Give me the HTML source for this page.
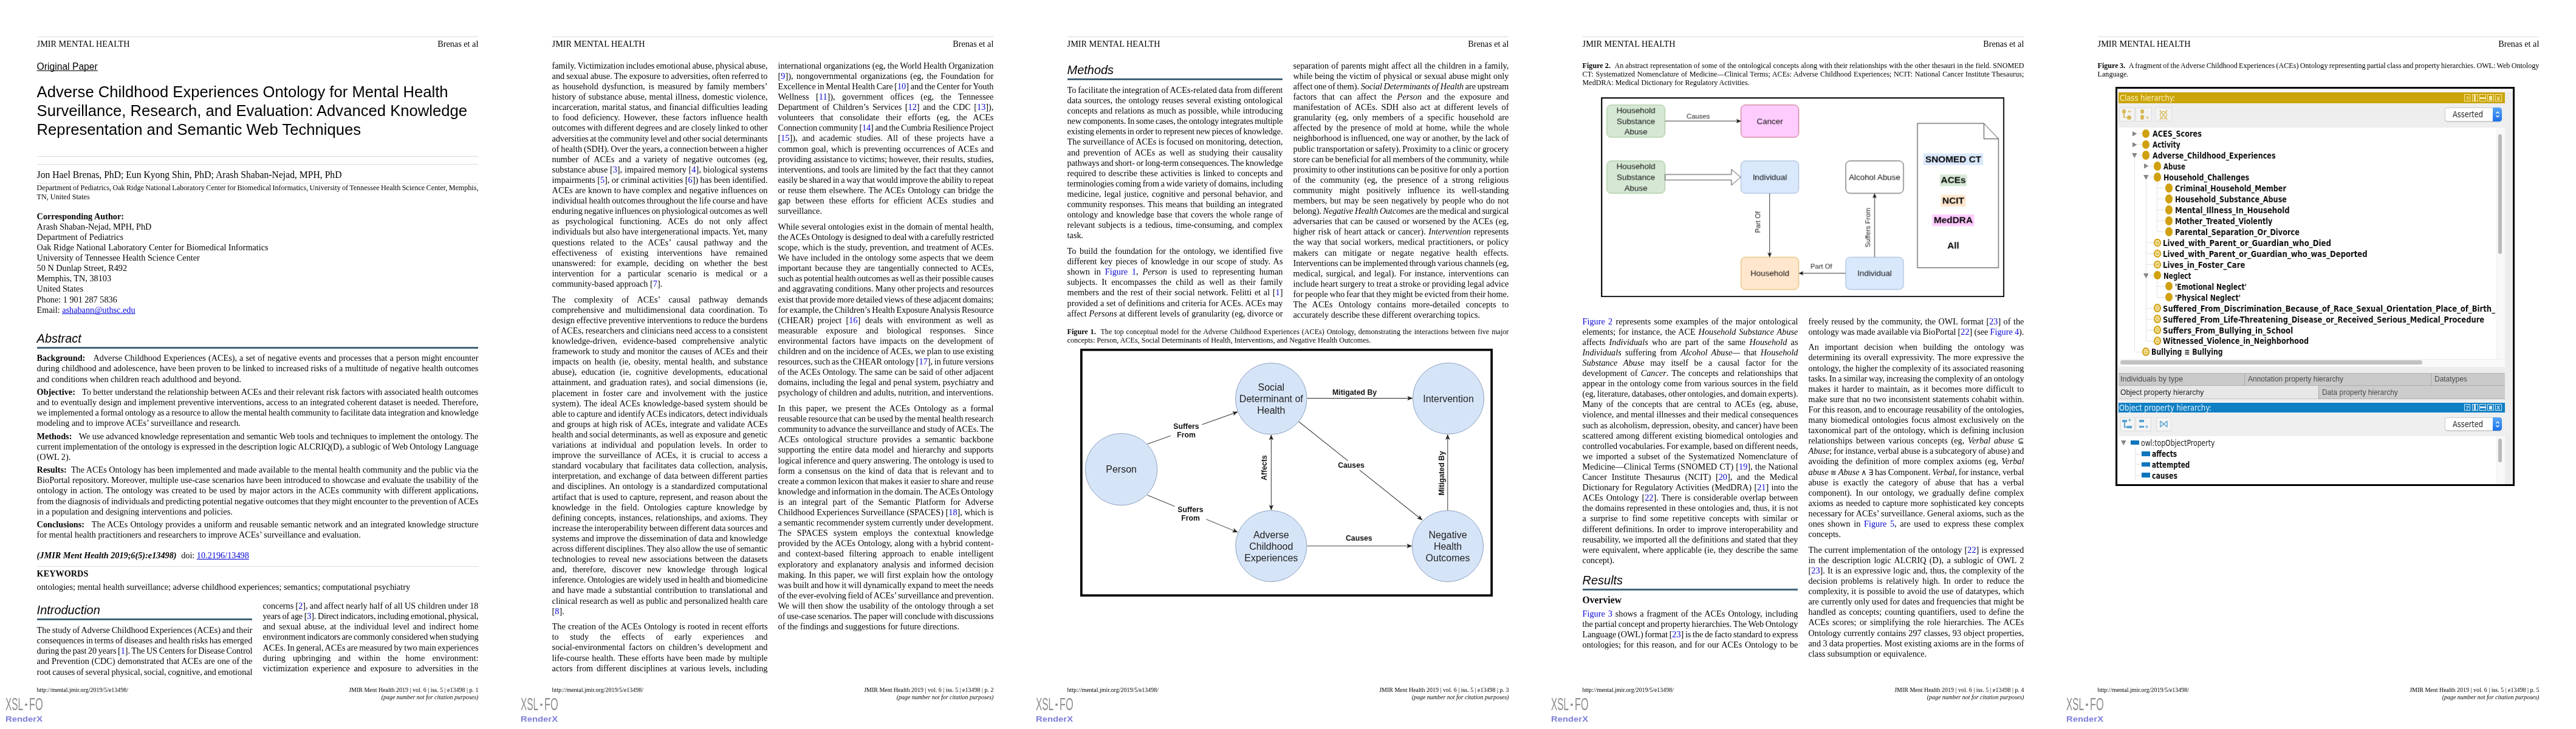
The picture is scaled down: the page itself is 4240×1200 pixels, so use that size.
<!DOCTYPE html>
<html lang="en"><head><meta charset="utf-8"><title>JMIR Mental Health - Brenas et al</title>
<style>
html,body{margin:0;padding:0;background:#fff}
body{width:4240px;height:1200px;position:relative;overflow:hidden;font-family:'Liberation Serif',serif;color:#000}
.t{position:absolute;white-space:nowrap;line-height:20px;height:20px;font-size:14.25px}
.s{font-family:'Liberation Serif',serif}
.h{font-family:'Liberation Sans',sans-serif}
.d{font-family:'DejaVu Sans',sans-serif}
.dc{font-family:'DejaVu Sans Condensed','DejaVu Sans',sans-serif}
.db{font-family:'DejaVu Sans Condensed','DejaVu Sans',sans-serif;font-weight:bold}
#pg{position:absolute;left:0;top:0;width:4240px;height:1200px;will-change:transform}
.r{position:absolute}
.g{display:inline-block}
.m{font-family:'DejaVu Sans',sans-serif;font-size:12.5px}
a{color:#0000d6;text-decoration:none}
a.u{text-decoration:underline;text-decoration-skip-ink:none;text-decoration-thickness:0.8px;text-underline-offset:1.2px}
u{text-decoration-thickness:1.1px;text-underline-offset:1px;text-decoration-skip-ink:none}
</style></head>
<body>
<div id="pg">
<div class="r" style="left:60.60px;top:60.20px;width:726.80px;height:0.80px;background:#dcdcdc"></div>
<div class="r" style="left:40.80px;top:1158.30px;width:3.80px;height:3.80px;background:#8e8e8e;border-radius:50%"></div>
<div class="t h" style="left:9.3px;top:1174.2px;font-size:12.7px;font-weight:bold;color:#7d7fd8;transform-origin:0 0;transform:scaleX(1.17)">RenderX</div>
<div class="r" style="left:60.60px;top:257.20px;width:726.80px;height:0.80px;background:#dcdcdc"></div>
<div class="r" style="left:60.60px;top:270.30px;width:726.80px;height:0.80px;background:#dcdcdc"></div>
<div class="r" style="left:60.60px;top:301.80px;width:726.80px;height:0.80px;background:#dcdcdc"></div>
<div class="r" style="left:60.60px;top:571.00px;width:726.80px;height:3.00px;background:#42647a"></div>
<div class="r" style="left:60.60px;top:932.00px;width:726.80px;height:0.80px;background:#dcdcdc"></div>
<div class="r" style="left:60.60px;top:1018.40px;width:354.85px;height:3.00px;background:#42647a"></div>
<div class="r" style="left:908.60px;top:60.20px;width:726.80px;height:0.80px;background:#dcdcdc"></div>
<div class="r" style="left:888.80px;top:1158.30px;width:3.80px;height:3.80px;background:#8e8e8e;border-radius:50%"></div>
<div class="t h" style="left:857.3px;top:1174.2px;font-size:12.7px;font-weight:bold;color:#7d7fd8;transform-origin:0 0;transform:scaleX(1.17)">RenderX</div>
<div class="r" style="left:1756.60px;top:60.20px;width:726.80px;height:0.80px;background:#dcdcdc"></div>
<div class="r" style="left:1736.80px;top:1158.30px;width:3.80px;height:3.80px;background:#8e8e8e;border-radius:50%"></div>
<div class="t h" style="left:1705.3px;top:1174.2px;font-size:12.7px;font-weight:bold;color:#7d7fd8;transform-origin:0 0;transform:scaleX(1.17)">RenderX</div>
<div class="r" style="left:1756.60px;top:128.60px;width:354.85px;height:3.00px;background:#42647a"></div>
<svg class="r" style="left:1778.0px;top:574px" width="679.0" height="408" viewBox="82.0 574 679.0 408"><defs><marker id="ah" markerWidth="10" markerHeight="8" refX="8.5" refY="4" orient="auto-start-reverse" markerUnits="userSpaceOnUse"><path d="M0,0.3 L9,4 L0,7.7 L2.2,4 Z" fill="#222"/></marker></defs><rect x="83.85" y="575.85" width="675.30" height="404.30" fill="#fff" stroke="#000" stroke-width="3.7"/><line x1="192.5" y1="731.0" x2="341.0" y2="678.0" stroke="#444" stroke-width="1.1" marker-end="url(#ah)"/><line x1="192.5" y1="815.0" x2="341.0" y2="876.0" stroke="#444" stroke-width="1.1" marker-end="url(#ah)"/><line x1="455.5" y1="655.6" x2="628.8" y2="655.6" stroke="#444" stroke-width="1.1" marker-end="url(#ah)"/><line x1="396.4" y1="839.5" x2="396.4" y2="716.0" stroke="#444" stroke-width="1.1" marker-end="url(#ah)" marker-start="url(#ah)"/><line x1="441.0" y1="693.5" x2="645.0" y2="856.0" stroke="#444" stroke-width="1.1" marker-end="url(#ah)"/><line x1="455.5" y1="898.8" x2="627.8" y2="898.8" stroke="#444" stroke-width="1.1" marker-end="url(#ah)"/><line x1="686.8" y1="840.5" x2="686.8" y2="715.5" stroke="#444" stroke-width="1.1" marker-end="url(#ah)"/><circle cx="149.6" cy="772.6" r="59.2" fill="#d6e4f7" stroke="#8fa3c2" stroke-width="1"/><circle cx="396.3" cy="656.4" r="58.8" fill="#d6e4f7" stroke="#8fa3c2" stroke-width="1"/><circle cx="688.0" cy="656.0" r="58.6" fill="#d6e4f7" stroke="#8fa3c2" stroke-width="1"/><circle cx="396.3" cy="899.0" r="58.6" fill="#d6e4f7" stroke="#8fa3c2" stroke-width="1"/><circle cx="687.0" cy="899.0" r="58.6" fill="#d6e4f7" stroke="#8fa3c2" stroke-width="1"/><g transform="translate(256.5,708.5) rotate(0)"><rect x="-25.8" y="-14.2" width="51.7" height="28.4" fill="#fff"/><text x="0" y="-2.2" text-anchor="middle" font-family="Liberation Sans,sans-serif" font-weight="bold" font-size="12.3" fill="#111">Suffers</text><text x="0" y="11.0" text-anchor="middle" font-family="Liberation Sans,sans-serif" font-weight="bold" font-size="12.3" fill="#111">From</text></g><g transform="translate(263.5,845.6) rotate(0)"><rect x="-25.8" y="-14.2" width="51.7" height="28.4" fill="#fff"/><text x="0" y="-2.2" text-anchor="middle" font-family="Liberation Sans,sans-serif" font-weight="bold" font-size="12.3" fill="#111">Suffers</text><text x="0" y="11.0" text-anchor="middle" font-family="Liberation Sans,sans-serif" font-weight="bold" font-size="12.3" fill="#111">From</text></g><g transform="translate(533.6,645.2) rotate(0)"><text x="0" y="4.4" text-anchor="middle" font-family="Liberation Sans,sans-serif" font-weight="bold" font-size="12.3" fill="#111">Mitigated By</text></g><g transform="translate(385.0,770.0) rotate(-90)"><text x="0" y="4.4" text-anchor="middle" font-family="Liberation Sans,sans-serif" font-weight="bold" font-size="12.3" fill="#111">Affects</text></g><g transform="translate(528.0,766.0) rotate(0)"><rect x="-22.1" y="-7.6" width="44.3" height="15.2" fill="#fff"/><text x="0" y="4.4" text-anchor="middle" font-family="Liberation Sans,sans-serif" font-weight="bold" font-size="12.3" fill="#111">Causes</text></g><g transform="translate(540.8,886.0) rotate(0)"><text x="0" y="4.4" text-anchor="middle" font-family="Liberation Sans,sans-serif" font-weight="bold" font-size="12.3" fill="#111">Causes</text></g><g transform="translate(677.0,779.0) rotate(-90)"><text x="0" y="4.4" text-anchor="middle" font-family="Liberation Sans,sans-serif" font-weight="bold" font-size="12.3" fill="#111">Mitigated By</text></g><text x="149.6" y="778.3" text-anchor="middle" font-family="Liberation Sans,sans-serif" font-size="16" fill="#222">Person</text><text x="396.3" y="643.1" text-anchor="middle" font-family="Liberation Sans,sans-serif" font-size="16" fill="#222">Social</text><text x="396.3" y="662.1" text-anchor="middle" font-family="Liberation Sans,sans-serif" font-size="16" fill="#222">Determinant of</text><text x="396.3" y="681.1" text-anchor="middle" font-family="Liberation Sans,sans-serif" font-size="16" fill="#222">Health</text><text x="688.0" y="661.7" text-anchor="middle" font-family="Liberation Sans,sans-serif" font-size="16" fill="#222">Intervention</text><text x="396.3" y="885.7" text-anchor="middle" font-family="Liberation Sans,sans-serif" font-size="16" fill="#222">Adverse</text><text x="396.3" y="904.7" text-anchor="middle" font-family="Liberation Sans,sans-serif" font-size="16" fill="#222">Childhood</text><text x="396.3" y="923.7" text-anchor="middle" font-family="Liberation Sans,sans-serif" font-size="16" fill="#222">Experiences</text><text x="687.0" y="885.7" text-anchor="middle" font-family="Liberation Sans,sans-serif" font-size="16" fill="#222">Negative</text><text x="687.0" y="904.7" text-anchor="middle" font-family="Liberation Sans,sans-serif" font-size="16" fill="#222">Health</text><text x="687.0" y="923.7" text-anchor="middle" font-family="Liberation Sans,sans-serif" font-size="16" fill="#222">Outcomes</text></svg>
<div class="r" style="left:2604.60px;top:60.20px;width:726.80px;height:0.80px;background:#dcdcdc"></div>
<div class="r" style="left:2584.80px;top:1158.30px;width:3.80px;height:3.80px;background:#8e8e8e;border-radius:50%"></div>
<div class="t h" style="left:2553.3px;top:1174.2px;font-size:12.7px;font-weight:bold;color:#7d7fd8;transform-origin:0 0;transform:scaleX(1.17)">RenderX</div>
<svg class="r" style="left:2634.8px;top:159.7px" width="664.4" height="329.5" viewBox="90.8 159.7 664.4 329.5"><defs><marker id="ah2" markerWidth="9" markerHeight="8" refX="7.5" refY="4" orient="auto" markerUnits="userSpaceOnUse"><path d="M0,0.6 L8,4 L0,7.4 L2,4 Z" fill="#111"/></marker></defs><rect x="91.95" y="160.85" width="662.10" height="327.20" fill="#fff" stroke="#000" stroke-width="2.3"/><rect x="100.6" y="172.5" width="95.6" height="53.2" rx="7" fill="#d5e8d4" stroke="#9fc08f" stroke-width="1"/><text x="148.4" y="186.3" text-anchor="middle" font-family="Liberation Sans,sans-serif" font-size="13.4" fill="#111">Household</text><text x="148.4" y="203.9" text-anchor="middle" font-family="Liberation Sans,sans-serif" font-size="13.4" fill="#111">Substance</text><text x="148.4" y="221.5" text-anchor="middle" font-family="Liberation Sans,sans-serif" font-size="13.4" fill="#111">Abuse</text><rect x="321.3" y="172.5" width="95.1" height="53.2" rx="7" fill="#ffccff" stroke="#c0617a" stroke-width="1"/><text x="368.9" y="203.9" text-anchor="middle" font-family="Liberation Sans,sans-serif" font-size="13.4" fill="#111">Cancer</text><rect x="100.6" y="264.6" width="95.6" height="53.3" rx="7" fill="#d5e8d4" stroke="#9fc08f" stroke-width="1"/><text x="148.4" y="278.4" text-anchor="middle" font-family="Liberation Sans,sans-serif" font-size="13.4" fill="#111">Household</text><text x="148.4" y="296.0" text-anchor="middle" font-family="Liberation Sans,sans-serif" font-size="13.4" fill="#111">Substance</text><text x="148.4" y="313.6" text-anchor="middle" font-family="Liberation Sans,sans-serif" font-size="13.4" fill="#111">Abuse</text><rect x="321.3" y="264.6" width="95.1" height="53.3" rx="7" fill="#dae8fc" stroke="#9db4d6" stroke-width="1"/><text x="368.9" y="296.0" text-anchor="middle" font-family="Liberation Sans,sans-serif" font-size="13.4" fill="#111">Individual</text><rect x="493.8" y="264.6" width="95.0" height="53.3" rx="7" fill="#ffffff" stroke="#444" stroke-width="1"/><text x="541.3" y="296.0" text-anchor="middle" font-family="Liberation Sans,sans-serif" font-size="13.4" fill="#111">Alcohol Abuse</text><rect x="321.3" y="423.1" width="95.1" height="53.2" rx="7" fill="#ffe6cc" stroke="#dcb45a" stroke-width="1"/><text x="368.9" y="454.5" text-anchor="middle" font-family="Liberation Sans,sans-serif" font-size="13.4" fill="#111">Household</text><rect x="493.8" y="423.1" width="95.0" height="53.2" rx="7" fill="#dae8fc" stroke="#9db4d6" stroke-width="1"/><text x="541.3" y="454.5" text-anchor="middle" font-family="Liberation Sans,sans-serif" font-size="13.4" fill="#111">Individual</text><line x1="196.5" y1="199.0" x2="321.0" y2="199.0" stroke="#333" stroke-width="1" marker-end="url(#ah2)"/><line x1="368.5" y1="318.2" x2="368.5" y2="422.8" stroke="#333" stroke-width="1" marker-end="url(#ah2)"/><line x1="541.3" y1="422.8" x2="541.3" y2="318.4" stroke="#333" stroke-width="1" marker-end="url(#ah2)"/><line x1="493.5" y1="449.5" x2="416.8" y2="449.5" stroke="#333" stroke-width="1" marker-end="url(#ah2)"/><path d="M196.5,286.9 L305.7,286.9 L305.7,278.3 L320.8,291.4 L305.7,304.6 L305.7,296.0 L196.5,296.0 Z" fill="#fff" stroke="#444" stroke-width="1"/><text transform="translate(251.0,195.2) rotate(0)" text-anchor="middle" font-family="Liberation Sans,sans-serif" font-size="11.3" fill="#222">Causes</text><text transform="translate(353.2,365.5) rotate(-90)" text-anchor="middle" font-family="Liberation Sans,sans-serif" font-size="11.3" fill="#222">Part Of</text><text transform="translate(534.2,374.4) rotate(-90)" text-anchor="middle" font-family="Liberation Sans,sans-serif" font-size="11.3" fill="#222">Suffers From</text><text transform="translate(453.5,442.1) rotate(0)" text-anchor="middle" font-family="Liberation Sans,sans-serif" font-size="11.3" fill="#222">Part Of</text><path d="M611.8,202.8 L721.2,202.8 L745.2,228.2 L745.2,440.4 L611.8,440.4 Z" fill="#fff" stroke="#333" stroke-width="1"/><path d="M721.2,202.8 L721.2,228.2 L745.2,228.2" fill="none" stroke="#333" stroke-width="1"/><rect x="621.8" y="252.4" width="98.0" height="19" fill="#dae8fc"/><text x="670.8" y="266.6" text-anchor="middle" font-family="Liberation Sans,sans-serif" font-weight="bold" font-size="15.4" fill="#000">SNOMED CT</text><rect x="648.8" y="287.0" width="44.0" height="19" fill="#d5e8d4"/><text x="670.8" y="301.2" text-anchor="middle" font-family="Liberation Sans,sans-serif" font-weight="bold" font-size="15.4" fill="#000">ACEs</text><rect x="650.3" y="320.6" width="41.0" height="19" fill="#ffe6cc"/><text x="670.8" y="334.8" text-anchor="middle" font-family="Liberation Sans,sans-serif" font-weight="bold" font-size="15.4" fill="#000">NCIT</text><rect x="636.3" y="352.8" width="69.0" height="19" fill="#ffccff"/><text x="670.8" y="367.0" text-anchor="middle" font-family="Liberation Sans,sans-serif" font-weight="bold" font-size="15.4" fill="#000">MedDRA</text><text x="670.8" y="409.2" text-anchor="middle" font-family="Liberation Sans,sans-serif" font-weight="bold" font-size="15.4" fill="#000">All</text></svg>
<div class="r" style="left:2604.60px;top:968.70px;width:354.85px;height:3.00px;background:#42647a"></div>
<div class="r" style="left:3452.60px;top:60.20px;width:726.80px;height:0.80px;background:#dcdcdc"></div>
<div class="r" style="left:3432.80px;top:1158.30px;width:3.80px;height:3.80px;background:#8e8e8e;border-radius:50%"></div>
<div class="t h" style="left:3401.3px;top:1174.2px;font-size:12.7px;font-weight:bold;color:#7d7fd8;transform-origin:0 0;transform:scaleX(1.17)">RenderX</div>
<div class="r" style="left:3481.6px;top:142.7px;width:657.4px;height:656.9px;background:#ededed;border:3px solid #000;box-sizing:border-box"></div><div class="r" style="left:3484.6px;top:145.7px;width:651.4px;height:6.4px;background:#f7f3f5"></div><div class="r" style="left:3486.9px;top:152.1px;width:636.3px;height:17.5px;background:#caa40a"></div><div class="r" style="left:4055.7px;top:155.4px;width:9.9px;height:11.8px;border:1.2px solid #f7e9a6;box-sizing:border-box"></div><div class="r" style="left:4068.6px;top:155.4px;width:10.0px;height:11.8px;border:1.2px solid #f7e9a6;box-sizing:border-box"></div><div class="r" style="left:4072.2px;top:155.4px;width:2.8px;height:11.8px;background:#f7e9a6"></div><div class="r" style="left:4081.3px;top:155.4px;width:10.6px;height:11.8px;border:1.2px solid #f7e9a6;box-sizing:border-box"></div><div class="r" style="left:4081.3px;top:159.9px;width:10.6px;height:2.8px;background:#f7e9a6"></div><div class="r" style="left:4094.4px;top:155.4px;width:10.3px;height:11.8px;border:1.2px solid #f7e9a6;box-sizing:border-box"></div><div class="r" style="left:4096.9px;top:157.9px;width:5.3px;height:6.8px;background:#f7e9a6"></div><div class="r" style="left:4107.1px;top:155.4px;width:10.6px;height:11.8px;border:1.2px solid #f7e9a6;box-sizing:border-box"></div><div class="r" style="left:3484.6px;top:169.6px;width:651.4px;height:40.4px;background:#eeeeee"></div><div class="r" style="left:3487.5px;top:176.8px;width:26.1px;height:23.6px;background:#f3f3f3;border:1px solid #dcdcdc;box-sizing:border-box"></div><div class="r" style="left:3515.0px;top:176.8px;width:26.5px;height:23.6px;background:#f3f3f3;border:1px solid #dcdcdc;box-sizing:border-box"></div><div class="r" style="left:3547.2px;top:176.8px;width:27.5px;height:23.6px;background:#f3f3f3;border:1px solid #dcdcdc;box-sizing:border-box"></div><div class="r" style="left:3492.6px;top:179.8px;width:6.6px;height:7.3px;border-radius:50%;background:#d6b856"></div><div class="r" style="left:3501.4px;top:190.0px;width:6.6px;height:7.3px;border-radius:50%;background:#d6b856"></div><div class="r" style="left:3495.4px;top:186.0px;width:1.2px;height:8.0px;background:#d6b856"></div><div class="r" style="left:3495.4px;top:193.0px;width:6.6px;height:1.2px;background:#d6b856"></div><div class="r" style="left:3502.2px;top:182.8px;width:5.4px;height:1.2px;background:#d6b856"></div><div class="r" style="left:3504.3px;top:180.7px;width:1.2px;height:5.4px;background:#d6b856"></div><div class="r" style="left:3522.7px;top:179.8px;width:6.6px;height:7.3px;border-radius:50%;background:#d6b856"></div><div class="r" style="left:3522.7px;top:189.4px;width:6.6px;height:7.3px;border-radius:50%;background:#d6b856"></div><div class="r" style="left:3531.5px;top:193.0px;width:5.4px;height:1.2px;background:#d6b856"></div><div class="r" style="left:3533.6px;top:190.9px;width:1.2px;height:5.4px;background:#d6b856"></div><svg class="r" style="left:3552.9px;top:179.5px" width="16" height="19" viewBox="-8 -9.5 16 19"><ellipse cx="0" cy="0" rx="5.3" ry="6.2" fill="none" stroke="#d6b856" stroke-width="1.3"/><path d="M-6.2,-8 L6.2,8 M6.2,-8 L-6.2,8" stroke="#d6b856" stroke-width="1.3"/></svg><div class="r" style="left:4024.4px;top:177.3px;width:94.0px;height:22.8px;background:#fff;border:1px solid #cfcfcf;border-radius:4.5px;box-sizing:border-box;box-shadow:0 0.5px 1px rgba(0,0,0,.15)"></div><div class="r" style="left:4103.3px;top:177.3px;width:15.1px;height:22.8px;background:linear-gradient(#57a6f8,#1b6fe8);border-radius:0 4.5px 4.5px 0"></div><svg class="r" style="left:4106.8px;top:182.2px" width="8" height="13" viewBox="0 0 8 13"><path d="M1.4,5 L4,2.2 L6.6,5 M1.4,8 L4,10.8 L6.6,8" stroke="#fff" stroke-width="1.3" fill="none"/></svg><div class="r" style="left:3486.9px;top:210.0px;width:636.3px;height:394.0px;background:#fff"></div><div class="r" style="left:4108.8px;top:210.0px;width:14.4px;height:380.5px;background:#f8f8f8;border-left:1px solid #efefef;box-sizing:border-box"></div><div class="r" style="left:4111.5px;top:220.9px;width:6.4px;height:197.6px;background:#b9b9b9;border-radius:3.2px"></div><div class="r" style="left:3486.9px;top:590.5px;width:636.3px;height:13.5px;background:#fafafa;border-top:1px solid #ededed;box-sizing:border-box"></div><div class="r" style="left:3489.8px;top:592.6px;width:497.6px;height:7.1px;background:#c2c2c2;border-radius:3.6px"></div><div class="r" style="left:3513.0px;top:261.6px;width:1.0px;height:317.5px;background:#e2e2e2"></div><div class="r" style="left:3531.6px;top:297.6px;width:1.0px;height:263.5px;background:#e2e2e2"></div><div class="r" style="left:3550.2px;top:299.6px;width:1.0px;height:81.8px;background:#e2e2e2"></div><div class="r" style="left:3550.2px;top:461.3px;width:1.0px;height:27.9px;background:#e2e2e2"></div><div class="r" style="left:3518.2px;top:219.2px;width:8.0px;height:1.0px;background:#e2e2e2"></div><div class="r" style="left:3526.1px;top:212.5px;width:12.2px;height:14.4px;border-radius:50%;background:#d0a010"></div><svg class="r" style="left:3510.0px;top:215.5px" width="8" height="8.4" viewBox="0 0 8 8.4"><path d="M0,0 L7.4,4.2 L0,8.4 Z" fill="#868686"/></svg><div class="r" style="left:3518.2px;top:237.2px;width:8.0px;height:1.0px;background:#e2e2e2"></div><div class="r" style="left:3526.1px;top:230.5px;width:12.2px;height:14.4px;border-radius:50%;background:#d0a010"></div><svg class="r" style="left:3510.0px;top:233.5px" width="8" height="8.4" viewBox="0 0 8 8.4"><path d="M0,0 L7.4,4.2 L0,8.4 Z" fill="#868686"/></svg><div class="r" style="left:3518.2px;top:255.1px;width:8.0px;height:1.0px;background:#e2e2e2"></div><div class="r" style="left:3526.1px;top:248.4px;width:12.2px;height:14.4px;border-radius:50%;background:#d0a010"></div><svg class="r" style="left:3509.0px;top:252.0px" width="8.6" height="8.2" viewBox="0 0 8.6 8.2"><path d="M0,0 L8.6,0 L4.3,8.2 Z" fill="#868686"/></svg><div class="r" style="left:3536.9px;top:273.1px;width:8.0px;height:1.0px;background:#e2e2e2"></div><div class="r" style="left:3544.8px;top:266.4px;width:12.2px;height:14.4px;border-radius:50%;background:#d0a010"></div><svg class="r" style="left:3528.7px;top:269.4px" width="8" height="8.4" viewBox="0 0 8 8.4"><path d="M0,0 L7.4,4.2 L0,8.4 Z" fill="#868686"/></svg><div class="r" style="left:3536.9px;top:291.1px;width:8.0px;height:1.0px;background:#e2e2e2"></div><div class="r" style="left:3544.8px;top:284.4px;width:12.2px;height:14.4px;border-radius:50%;background:#d0a010"></div><svg class="r" style="left:3527.7px;top:288.0px" width="8.6" height="8.2" viewBox="0 0 8.6 8.2"><path d="M0,0 L8.6,0 L4.3,8.2 Z" fill="#868686"/></svg><div class="r" style="left:3551.1px;top:309.0px;width:12.5px;height:1.0px;background:#e2e2e2"></div><div class="r" style="left:3563.5px;top:302.3px;width:12.2px;height:14.4px;border-radius:50%;background:#d0a010"></div><div class="r" style="left:3551.1px;top:327.0px;width:12.5px;height:1.0px;background:#e2e2e2"></div><div class="r" style="left:3563.5px;top:320.3px;width:12.2px;height:14.4px;border-radius:50%;background:#d0a010"></div><div class="r" style="left:3551.1px;top:345.0px;width:12.5px;height:1.0px;background:#e2e2e2"></div><div class="r" style="left:3563.5px;top:338.3px;width:12.2px;height:14.4px;border-radius:50%;background:#d0a010"></div><div class="r" style="left:3551.1px;top:363.0px;width:12.5px;height:1.0px;background:#e2e2e2"></div><div class="r" style="left:3563.5px;top:356.3px;width:12.2px;height:14.4px;border-radius:50%;background:#d0a010"></div><div class="r" style="left:3551.1px;top:380.9px;width:12.5px;height:1.0px;background:#e2e2e2"></div><div class="r" style="left:3563.5px;top:374.2px;width:12.2px;height:14.4px;border-radius:50%;background:#d0a010"></div><div class="r" style="left:3532.4px;top:398.9px;width:12.5px;height:1.0px;background:#e2e2e2"></div><div class="r" style="left:3545.0px;top:392.6px;width:11.8px;height:13.6px;border-radius:50%;background:#f3e2a0;border:2.2px solid #d0a010;box-sizing:border-box"></div><div class="r" style="left:3548.7px;top:397.6px;width:4.4px;height:1.0px;background:#d0a010"></div><div class="r" style="left:3548.7px;top:400.0px;width:4.4px;height:1.0px;background:#d0a010"></div><div class="r" style="left:3532.4px;top:416.9px;width:12.5px;height:1.0px;background:#e2e2e2"></div><div class="r" style="left:3545.0px;top:410.6px;width:11.8px;height:13.6px;border-radius:50%;background:#f3e2a0;border:2.2px solid #d0a010;box-sizing:border-box"></div><div class="r" style="left:3548.7px;top:415.6px;width:4.4px;height:1.0px;background:#d0a010"></div><div class="r" style="left:3548.7px;top:418.0px;width:4.4px;height:1.0px;background:#d0a010"></div><div class="r" style="left:3532.4px;top:434.8px;width:12.5px;height:1.0px;background:#e2e2e2"></div><div class="r" style="left:3545.0px;top:428.5px;width:11.8px;height:13.6px;border-radius:50%;background:#f3e2a0;border:2.2px solid #d0a010;box-sizing:border-box"></div><div class="r" style="left:3548.7px;top:433.5px;width:4.4px;height:1.0px;background:#d0a010"></div><div class="r" style="left:3548.7px;top:435.9px;width:4.4px;height:1.0px;background:#d0a010"></div><div class="r" style="left:3536.9px;top:452.8px;width:8.0px;height:1.0px;background:#e2e2e2"></div><div class="r" style="left:3544.8px;top:446.1px;width:12.2px;height:14.4px;border-radius:50%;background:#d0a010"></div><svg class="r" style="left:3527.7px;top:449.7px" width="8.6" height="8.2" viewBox="0 0 8.6 8.2"><path d="M0,0 L8.6,0 L4.3,8.2 Z" fill="#868686"/></svg><div class="r" style="left:3551.1px;top:470.8px;width:12.5px;height:1.0px;background:#e2e2e2"></div><div class="r" style="left:3563.5px;top:464.1px;width:12.2px;height:14.4px;border-radius:50%;background:#d0a010"></div><div class="r" style="left:3551.1px;top:488.7px;width:12.5px;height:1.0px;background:#e2e2e2"></div><div class="r" style="left:3563.5px;top:482.0px;width:12.2px;height:14.4px;border-radius:50%;background:#d0a010"></div><div class="r" style="left:3532.4px;top:506.7px;width:12.5px;height:1.0px;background:#e2e2e2"></div><div class="r" style="left:3545.0px;top:500.4px;width:11.8px;height:13.6px;border-radius:50%;background:#f3e2a0;border:2.2px solid #d0a010;box-sizing:border-box"></div><div class="r" style="left:3548.7px;top:505.4px;width:4.4px;height:1.0px;background:#d0a010"></div><div class="r" style="left:3548.7px;top:507.8px;width:4.4px;height:1.0px;background:#d0a010"></div><div class="r" style="left:3532.4px;top:524.7px;width:12.5px;height:1.0px;background:#e2e2e2"></div><div class="r" style="left:3545.0px;top:518.4px;width:11.8px;height:13.6px;border-radius:50%;background:#f3e2a0;border:2.2px solid #d0a010;box-sizing:border-box"></div><div class="r" style="left:3548.7px;top:523.4px;width:4.4px;height:1.0px;background:#d0a010"></div><div class="r" style="left:3548.7px;top:525.8px;width:4.4px;height:1.0px;background:#d0a010"></div><div class="r" style="left:3532.4px;top:542.7px;width:12.5px;height:1.0px;background:#e2e2e2"></div><div class="r" style="left:3545.0px;top:536.4px;width:11.8px;height:13.6px;border-radius:50%;background:#f3e2a0;border:2.2px solid #d0a010;box-sizing:border-box"></div><div class="r" style="left:3548.7px;top:541.4px;width:4.4px;height:1.0px;background:#d0a010"></div><div class="r" style="left:3548.7px;top:543.8px;width:4.4px;height:1.0px;background:#d0a010"></div><div class="r" style="left:3532.4px;top:560.6px;width:12.5px;height:1.0px;background:#e2e2e2"></div><div class="r" style="left:3545.0px;top:554.3px;width:11.8px;height:13.6px;border-radius:50%;background:#f3e2a0;border:2.2px solid #d0a010;box-sizing:border-box"></div><div class="r" style="left:3548.7px;top:559.3px;width:4.4px;height:1.0px;background:#d0a010"></div><div class="r" style="left:3548.7px;top:561.7px;width:4.4px;height:1.0px;background:#d0a010"></div><div class="r" style="left:3513.7px;top:578.6px;width:12.5px;height:1.0px;background:#e2e2e2"></div><div class="r" style="left:3526.3px;top:572.3px;width:11.8px;height:13.6px;border-radius:50%;background:#f3e2a0;border:2.2px solid #d0a010;box-sizing:border-box"></div><div class="r" style="left:3530.0px;top:577.3px;width:4.4px;height:1.0px;background:#d0a010"></div><div class="r" style="left:3530.0px;top:579.7px;width:4.4px;height:1.0px;background:#d0a010"></div><div class="r" style="left:3486.9px;top:604.0px;width:636.3px;height:9.8px;background:#ececec"></div><div class="r" style="left:3486.9px;top:613.8px;width:636.3px;height:21.0px;background:#cacaca;border-top:1px solid #b4b4b4;border-bottom:1px solid #adadad;box-sizing:border-box"></div><div class="r" style="left:3486.9px;top:635.2px;width:636.3px;height:21.7px;background:#cccccc;border-bottom:1px solid #adadad;box-sizing:border-box"></div><div class="r" style="left:3486.9px;top:635.2px;width:328.9px;height:21.7px;background:#e7e7e7;border-bottom:1px solid #c4c4c4;box-sizing:border-box"></div><div class="r" style="left:3693.8px;top:614.3px;width:1.0px;height:20.0px;background:#a6a6a6"></div><div class="r" style="left:4000.6px;top:614.3px;width:1.0px;height:20.0px;background:#a6a6a6"></div><div class="r" style="left:3815.8px;top:635.5px;width:1.0px;height:21.1px;background:#a6a6a6"></div><div class="r" style="left:3486.9px;top:656.9px;width:636.3px;height:5.8px;background:#efefef"></div><div class="r" style="left:3486.9px;top:662.7px;width:636.3px;height:16.8px;background:#0f7fc3"></div><div class="r" style="left:4055.7px;top:665.2px;width:9.9px;height:11.2px;border:1.2px solid #d3e8f6;box-sizing:border-box"></div><div class="r" style="left:4068.6px;top:665.2px;width:10.0px;height:11.2px;border:1.2px solid #d3e8f6;box-sizing:border-box"></div><div class="r" style="left:4072.2px;top:665.2px;width:2.8px;height:11.2px;background:#d3e8f6"></div><div class="r" style="left:4081.3px;top:665.2px;width:10.6px;height:11.2px;border:1.2px solid #d3e8f6;box-sizing:border-box"></div><div class="r" style="left:4081.3px;top:669.4px;width:10.6px;height:2.8px;background:#d3e8f6"></div><div class="r" style="left:4094.4px;top:665.2px;width:10.3px;height:11.2px;border:1.2px solid #d3e8f6;box-sizing:border-box"></div><div class="r" style="left:4096.9px;top:667.7px;width:5.3px;height:6.2px;background:#d3e8f6"></div><div class="r" style="left:4107.1px;top:665.2px;width:10.6px;height:11.2px;border:1.2px solid #d3e8f6;box-sizing:border-box"></div><div class="r" style="left:3484.6px;top:679.5px;width:651.4px;height:38.5px;background:#efefef"></div><div class="r" style="left:3489.6px;top:686.6px;width:24.2px;height:23.4px;background:#f4f4f4;border:1px solid #dddddd;box-sizing:border-box"></div><div class="r" style="left:3515.3px;top:686.6px;width:25.6px;height:23.4px;background:#f4f4f4;border:1px solid #dddddd;box-sizing:border-box"></div><div class="r" style="left:3548.5px;top:686.6px;width:25.6px;height:23.4px;background:#f4f4f4;border:1px solid #dddddd;box-sizing:border-box"></div><div class="r" style="left:3493.4px;top:691.3px;width:7.5px;height:3.6px;background:#5aa3d2"></div><div class="r" style="left:3500.8px;top:701.2px;width:8.0px;height:3.6px;background:#5aa3d2"></div><div class="r" style="left:3521.2px;top:691.3px;width:8.0px;height:3.6px;background:#5aa3d2"></div><div class="r" style="left:3521.2px;top:700.6px;width:8.0px;height:3.6px;background:#5aa3d2"></div><div class="r" style="left:3496.4px;top:694.5px;width:1.2px;height:9.0px;background:#5aa3d2"></div><div class="r" style="left:3496.4px;top:702.4px;width:4.6px;height:1.2px;background:#5aa3d2"></div><div class="r" style="left:3503.2px;top:690.8px;width:5.0px;height:1.2px;background:#5aa3d2"></div><div class="r" style="left:3505.1px;top:688.9px;width:1.2px;height:5.0px;background:#5aa3d2"></div><div class="r" style="left:3530.8px;top:701.8px;width:5.0px;height:1.2px;background:#5aa3d2"></div><div class="r" style="left:3532.7px;top:699.9px;width:1.2px;height:5.0px;background:#5aa3d2"></div><svg class="r" style="left:3553.8px;top:690.3px" width="15" height="16" viewBox="0 0 15 16"><path d="M2,3 L13,13 M13,3 L2,13 M2,3 L2,13 M13,3 L13,13" stroke="#5aa3d2" stroke-width="1.4" fill="none"/></svg><div class="r" style="left:4024.4px;top:686.7px;width:94.0px;height:22.7px;background:#fff;border:1px solid #cfcfcf;border-radius:4.5px;box-sizing:border-box;box-shadow:0 0.5px 1px rgba(0,0,0,.15)"></div><div class="r" style="left:4103.3px;top:686.7px;width:15.1px;height:22.7px;background:linear-gradient(#57a6f8,#1b6fe8);border-radius:0 4.5px 4.5px 0"></div><svg class="r" style="left:4106.8px;top:691.5px" width="8" height="13" viewBox="0 0 8 13"><path d="M1.4,5 L4,2.2 L6.6,5 M1.4,8 L4,10.8 L6.6,8" stroke="#fff" stroke-width="1.3" fill="none"/></svg><div class="r" style="left:3486.9px;top:718.0px;width:636.3px;height:78.6px;background:#fff"></div><div class="r" style="left:4108.8px;top:718.0px;width:14.4px;height:78.6px;background:#f8f8f8;border-left:1px solid #efefef;box-sizing:border-box"></div><div class="r" style="left:4112.1px;top:722.0px;width:6.3px;height:38.6px;background:#b9b9b9;border-radius:3.2px"></div><div class="r" style="left:3513.5px;top:737.7px;width:1.0px;height:52.8px;background:#e2e2e2"></div><svg class="r" style="left:3491.2px;top:725.4px" width="8.6" height="8.2" viewBox="0 0 8.6 8.2"><path d="M0,0 L8.6,0 L4.3,8.2 Z" fill="#868686"/></svg><div class="r" style="left:3499.6px;top:728.4px;width:7.4px;height:1.0px;background:#e2e2e2"></div><div class="r" style="left:3506.9px;top:724.9px;width:13.8px;height:7.5px;background:#0f75bc"></div><div class="r" style="left:3525.3px;top:743.0px;width:13.9px;height:7.6px;background:#0f75bc"></div><div class="r" style="left:3513.5px;top:746.5px;width:11.8px;height:1.0px;background:#e2e2e2"></div><div class="r" style="left:3525.3px;top:760.7px;width:13.9px;height:7.6px;background:#0f75bc"></div><div class="r" style="left:3513.5px;top:764.2px;width:11.8px;height:1.0px;background:#e2e2e2"></div><div class="r" style="left:3525.3px;top:778.4px;width:13.9px;height:7.6px;background:#0f75bc"></div><div class="r" style="left:3513.5px;top:781.9px;width:11.8px;height:1.0px;background:#e2e2e2"></div>
<div class="t" style="left:60.60px;top:62.09px;">JMIR MENTAL HEALTH</div>
<div class="t" style="left:60.60px;top:62.09px;width:726.80px;text-align:right;">Brenas et al</div>
<div class="t" style="left:60.60px;top:1125.83px;font-size:9.98px;">http://mental.jmir.org/2019/5/e13498/</div>
<div class="t" style="left:60.60px;top:1125.83px;font-size:9.98px;width:726.80px;text-align:right;">JMIR Ment Health 2019 | vol. 6 | iss. 5 | e13498 | p. 1</div>
<div class="t" style="left:60.60px;top:1138.03px;font-size:9.98px;width:726.80px;text-align:right;"><i>(page number not for citation purposes)</i></div>
<div class="t h" style="left:9.10px;top:1149.38px;font-size:28.9px;color:#8e8e8e;transform-origin:0 50%;transform:scaleX(0.5310);">XSL</div>
<div class="t h" style="left:47.90px;top:1149.38px;font-size:28.9px;color:#8e8e8e;transform-origin:0 50%;transform:scaleX(0.5657);">FO</div>
<div class="t h" style="left:60.60px;top:99.76px;font-size:15.68px;"><u>Original Paper</u></div>
<div class="t h" style="left:60.60px;top:140.71px;font-size:25.65px;">Adverse Childhood Experiences Ontology for Mental Health</div>
<div class="t h" style="left:60.60px;top:171.61px;font-size:25.65px;">Surveillance, Research, and Evaluation: Advanced Knowledge</div>
<div class="t h" style="left:60.60px;top:202.51px;font-size:25.65px;">Representation and Semantic Web Techniques</div>
<div class="t" style="left:60.60px;top:277.71px;font-size:15.68px;">Jon Hael Brenas, PhD; Eun Kyong Shin, PhD; Arash Shaban-Nejad, MPH, PhD</div>
<div class="t" style="left:60.60px;top:299.21px;font-size:12.11px;word-spacing:-0.637px;letter-spacing:-0.011px;">Department of Pediatrics, Oak Ridge National Laboratory Center for Biomedical Informatics, University of Tennessee Health Science Center, Memphis,</div>
<div class="t" style="left:60.60px;top:313.61px;font-size:12.11px;">TN, United States</div>
<div class="t" style="left:60.60px;top:345.79px;"><b>Corresponding Author:</b></div>
<div class="t" style="left:60.60px;top:362.89px;">Arash Shaban-Nejad, MPH, PhD</div>
<div class="t" style="left:60.60px;top:379.99px;">Department of Pediatrics</div>
<div class="t" style="left:60.60px;top:397.09px;">Oak Ridge National Laboratory Center for Biomedical Informatics</div>
<div class="t" style="left:60.60px;top:414.19px;">University of Tennessee Health Science Center</div>
<div class="t" style="left:60.60px;top:431.29px;">50 N Dunlap Street, R492</div>
<div class="t" style="left:60.60px;top:448.39px;">Memphis, TN, 38103</div>
<div class="t" style="left:60.60px;top:465.49px;">United States</div>
<div class="t" style="left:60.60px;top:482.59px;">Phone: 1 901 287 5836</div>
<div class="t" style="left:60.60px;top:499.69px;">Email: <a class="u">ashabann@uthsc.edu</a></div>
<div class="t h" style="left:60.60px;top:547.08px;font-size:19.95px;"><i>Abstract</i></div>
<div class="t" style="left:60.60px;top:579.39px;word-spacing:0.468px;"><b>Background:</b><span class="g" style="width:10px"></span> Adverse Childhood Experiences (ACEs), a set of negative events and processes that a person might encounter</div>
<div class="t" style="left:60.60px;top:596.49px;word-spacing:0.223px;">during childhood and adolescence, have been proven to be linked to increased risks of a multitude of negative health outcomes</div>
<div class="t" style="left:60.60px;top:613.59px;">and conditions when children reach adulthood and beyond.</div>
<div class="t" style="left:60.60px;top:634.99px;word-spacing:-0.158px;"><b>Objective:</b><span class="g" style="width:8px"></span> To better understand the relationship between ACEs and their relevant risk factors with associated health outcomes</div>
<div class="t" style="left:60.60px;top:652.09px;word-spacing:0.159px;">and to eventually design and implement preventive interventions, access to an integrated coherent dataset is needed. Therefore,</div>
<div class="t" style="left:60.60px;top:669.19px;word-spacing:-0.750px;letter-spacing:-0.056px;">we implemented a formal ontology as a resource to allow the mental health community to facilitate data integration and knowledge</div>
<div class="t" style="left:60.60px;top:686.29px;">modeling and to improve ACEs’ surveillance and research.</div>
<div class="t" style="left:60.60px;top:707.69px;word-spacing:-0.062px;"><b>Methods:</b><span class="g" style="width:8px"></span> We use advanced knowledge representation and semantic Web tools and techniques to implement the ontology. The</div>
<div class="t" style="left:60.60px;top:724.79px;word-spacing:-0.417px;">current implementation of the ontology is expressed in the description logic ALCRIQ(D), a sublogic of Web Ontology Language</div>
<div class="t" style="left:60.60px;top:741.89px;">(OWL 2).</div>
<div class="t" style="left:60.60px;top:763.29px;word-spacing:-0.081px;"><b>Results:</b><span class="g" style="width:4px"></span> The ACEs Ontology has been implemented and made available to the mental health community and the public via the</div>
<div class="t" style="left:60.60px;top:780.39px;word-spacing:0.159px;">BioPortal repository. Moreover, multiple use-case scenarios have been introduced to showcase and evaluate the usability of the</div>
<div class="t" style="left:60.60px;top:797.49px;word-spacing:0.934px;">ontology in action. The ontology was created to be used by major actors in the ACEs community with different applications,</div>
<div class="t" style="left:60.60px;top:814.59px;word-spacing:-0.693px;">from the diagnosis of individuals and predicting potential negative outcomes that they might encounter to the prevention of ACEs</div>
<div class="t" style="left:60.60px;top:831.69px;">in a population and designing interventions and policies.</div>
<div class="t" style="left:60.60px;top:853.09px;word-spacing:0.525px;"><b>Conclusions:</b><span class="g" style="width:8px"></span> The ACEs Ontology provides a uniform and reusable semantic network and an integrated knowledge structure</div>
<div class="t" style="left:60.60px;top:870.19px;">for mental health practitioners and researchers to improve ACEs’ surveillance and evaluation.</div>
<div class="t" style="left:60.60px;top:904.19px;"><b><i>(JMIR Ment Health 2019;6(5):e13498)</i></b><span class="g" style="width:4px"></span> doi: <a class="u">10.2196/13498</a></div>
<div class="t" style="left:60.60px;top:934.29px;"><b>KEYWORDS</b></div>
<div class="t" style="left:60.60px;top:956.09px;">ontologies; mental health surveillance; adverse childhood experiences; semantics; computational psychiatry</div>
<div class="t h" style="left:60.60px;top:994.48px;font-size:19.95px;"><i>Introduction</i></div>
<div class="t" style="left:60.60px;top:1027.19px;word-spacing:-0.661px;">The study of Adverse Childhood Experiences (ACEs) and their</div>
<div class="t" style="left:60.60px;top:1044.29px;word-spacing:-0.750px;letter-spacing:-0.004px;">consequences in terms of diseases and health risks has emerged</div>
<div class="t" style="left:60.60px;top:1061.39px;word-spacing:-0.750px;letter-spacing:-0.098px;">during the past 20 years [<a>1</a>]. The US Centers for Disease Control</div>
<div class="t" style="left:60.60px;top:1078.49px;word-spacing:0.338px;">and Prevention (CDC) demonstrated that ACEs are one of the</div>
<div class="t" style="left:60.60px;top:1095.59px;word-spacing:-0.750px;letter-spacing:-0.031px;">root causes of several physical, social, cognitive, and emotional</div>
<div class="t" style="left:432.55px;top:987.19px;word-spacing:-0.308px;">concerns [<a>2</a>], and affect nearly half of all US children under 18</div>
<div class="t" style="left:432.55px;top:1004.29px;word-spacing:-0.750px;letter-spacing:-0.155px;">years of age [<a>3</a>]. Direct indicators, including emotional, physical,</div>
<div class="t" style="left:432.55px;top:1021.39px;word-spacing:2.318px;">and sexual abuse, at the individual level and indirect home</div>
<div class="t" style="left:432.55px;top:1038.49px;word-spacing:-0.750px;letter-spacing:-0.171px;">environment indicators are commonly considered when studying</div>
<div class="t" style="left:432.55px;top:1055.59px;word-spacing:-0.750px;letter-spacing:-0.035px;">ACEs. In general, ACEs are measured by two main experiences</div>
<div class="t" style="left:432.55px;top:1072.69px;word-spacing:8.613px;">during upbringing and within the home environment:</div>
<div class="t" style="left:432.55px;top:1089.79px;word-spacing:2.925px;">victimization experience and exposure to adversities in the</div>
<div class="t" style="left:908.60px;top:62.09px;">JMIR MENTAL HEALTH</div>
<div class="t" style="left:908.60px;top:62.09px;width:726.80px;text-align:right;">Brenas et al</div>
<div class="t" style="left:908.60px;top:1125.83px;font-size:9.98px;">http://mental.jmir.org/2019/5/e13498/</div>
<div class="t" style="left:908.60px;top:1125.83px;font-size:9.98px;width:726.80px;text-align:right;">JMIR Ment Health 2019 | vol. 6 | iss. 5 | e13498 | p. 2</div>
<div class="t" style="left:908.60px;top:1138.03px;font-size:9.98px;width:726.80px;text-align:right;"><i>(page number not for citation purposes)</i></div>
<div class="t h" style="left:857.10px;top:1149.38px;font-size:28.9px;color:#8e8e8e;transform-origin:0 50%;transform:scaleX(0.5310);">XSL</div>
<div class="t h" style="left:895.90px;top:1149.38px;font-size:28.9px;color:#8e8e8e;transform-origin:0 50%;transform:scaleX(0.5657);">FO</div>
<div class="t" style="left:908.60px;top:97.89px;word-spacing:-0.750px;letter-spacing:-0.049px;">family. Victimization includes emotional abuse, physical abuse,</div>
<div class="t" style="left:908.60px;top:114.99px;word-spacing:-0.508px;">and sexual abuse. The exposure to adversities, often referred to</div>
<div class="t" style="left:908.60px;top:132.09px;word-spacing:2.298px;">as household dysfunction, is measured by family members’</div>
<div class="t" style="left:908.60px;top:149.19px;word-spacing:0.715px;">history of substance abuse, mental illness, domestic violence,</div>
<div class="t" style="left:908.60px;top:166.29px;word-spacing:0.886px;">incarceration, marital status, and financial difficulties leading</div>
<div class="t" style="left:908.60px;top:183.39px;word-spacing:2.804px;">to food deficiency. However, these factors influence health</div>
<div class="t" style="left:908.60px;top:200.49px;word-spacing:-0.421px;">outcomes with different degrees and are closely linked to other</div>
<div class="t" style="left:908.60px;top:217.59px;word-spacing:-0.750px;letter-spacing:-0.087px;">adversities at the community level and other social determinants</div>
<div class="t" style="left:908.60px;top:234.69px;word-spacing:-0.750px;letter-spacing:-0.002px;">of health (SDH). Over the years, a connection between a higher</div>
<div class="t" style="left:908.60px;top:251.79px;word-spacing:3.461px;">number of ACEs and a variety of negative outcomes (eg,</div>
<div class="t" style="left:908.60px;top:268.89px;word-spacing:0.204px;">substance abuse [<a>3</a>], impaired memory [<a>4</a>], biological systems</div>
<div class="t" style="left:908.60px;top:285.99px;word-spacing:-0.163px;">impairments [<a>5</a>], or criminal activities [<a>6</a>]) has been identified.</div>
<div class="t" style="left:908.60px;top:303.09px;word-spacing:0.428px;">ACEs are known to have complex and negative influences on</div>
<div class="t" style="left:908.60px;top:320.19px;word-spacing:-0.560px;">individual health outcomes throughout the life course and have</div>
<div class="t" style="left:908.60px;top:337.29px;word-spacing:-0.750px;letter-spacing:-0.070px;">enduring negative influences on physiological outcomes as well</div>
<div class="t" style="left:908.60px;top:354.39px;word-spacing:6.630px;">as psychological functioning. ACEs do not only affect</div>
<div class="t" style="left:908.60px;top:371.49px;word-spacing:0.072px;">individuals but also have intergenerational impacts. Yet, many</div>
<div class="t" style="left:908.60px;top:388.59px;word-spacing:5.805px;">questions related to the ACEs’ causal pathway and the</div>
<div class="t" style="left:908.60px;top:405.69px;word-spacing:10.320px;">effectiveness of existing interventions have remained</div>
<div class="t" style="left:908.60px;top:422.79px;word-spacing:5.695px;">unanswered: for example, deciding on whether the best</div>
<div class="t" style="left:908.60px;top:439.89px;word-spacing:7.460px;">intervention for a particular scenario is medical or a</div>
<div class="t" style="left:908.60px;top:456.99px;">community-based approach [<a>7</a>].</div>
<div class="t" style="left:908.60px;top:482.64px;word-spacing:10.642px;">The complexity of ACEs’ causal pathway demands</div>
<div class="t" style="left:908.60px;top:499.74px;word-spacing:3.311px;">comprehensive and multidimensional data coordination. To</div>
<div class="t" style="left:908.60px;top:516.84px;word-spacing:-0.428px;">design effective preventive interventions to reduce the burdens</div>
<div class="t" style="left:908.60px;top:533.94px;word-spacing:-0.319px;">of ACEs, researchers and clinicians need access to a consistent</div>
<div class="t" style="left:908.60px;top:551.04px;word-spacing:5.914px;">knowledge-driven, evidence-based comprehensive analytic</div>
<div class="t" style="left:908.60px;top:568.14px;word-spacing:0.263px;">framework to study and monitor the causes of ACEs and their</div>
<div class="t" style="left:908.60px;top:585.24px;word-spacing:2.179px;">impacts on health (ie, obesity, mental health, and substance</div>
<div class="t" style="left:908.60px;top:602.34px;word-spacing:4.176px;">abuse), education (ie, cognitive developments, educational</div>
<div class="t" style="left:908.60px;top:619.44px;word-spacing:1.735px;">attainment, and graduation rates), and social dimensions (ie,</div>
<div class="t" style="left:908.60px;top:636.54px;word-spacing:3.598px;">placement in foster care and involvement with the justice</div>
<div class="t" style="left:908.60px;top:653.64px;word-spacing:1.202px;">system). The ideal ACEs knowledge-based system should be</div>
<div class="t" style="left:908.60px;top:670.74px;word-spacing:-0.708px;">able to capture and identify ACEs indicators, detect individuals</div>
<div class="t" style="left:908.60px;top:687.84px;word-spacing:0.538px;">and groups at high risk of ACEs, integrate and validate ACEs</div>
<div class="t" style="left:908.60px;top:704.94px;word-spacing:-0.494px;">health and social determinants, as well as exposure and genetic</div>
<div class="t" style="left:908.60px;top:722.04px;word-spacing:3.841px;">variations at individual and population levels. In order to</div>
<div class="t" style="left:908.60px;top:739.14px;word-spacing:2.680px;">improve the surveillance of ACEs, it is crucial to access a</div>
<div class="t" style="left:908.60px;top:756.24px;word-spacing:2.030px;">standard vocabulary that facilitates data collection, analysis,</div>
<div class="t" style="left:908.60px;top:773.34px;word-spacing:0.764px;">interpretation, and exchange of data between different parties</div>
<div class="t" style="left:908.60px;top:790.44px;word-spacing:1.166px;">and disciplines. An ontology is a standardized computational</div>
<div class="t" style="left:908.60px;top:807.54px;word-spacing:0.269px;">artifact that is used to capture, represent, and reason about the</div>
<div class="t" style="left:908.60px;top:824.64px;word-spacing:3.996px;">knowledge in the field. Ontologies capture knowledge by</div>
<div class="t" style="left:908.60px;top:841.74px;word-spacing:1.009px;">defining concepts, instances, relationships, and axioms. They</div>
<div class="t" style="left:908.60px;top:858.84px;word-spacing:-0.750px;letter-spacing:-0.001px;">increase the interoperability between different data sources and</div>
<div class="t" style="left:908.60px;top:875.94px;word-spacing:-0.265px;">systems and improve the dissemination of data and knowledge</div>
<div class="t" style="left:908.60px;top:893.04px;word-spacing:-0.750px;letter-spacing:-0.030px;">across different disciplines. They also allow the use of semantic</div>
<div class="t" style="left:908.60px;top:910.14px;word-spacing:1.342px;">technologies to reveal new associations between the datasets</div>
<div class="t" style="left:908.60px;top:927.24px;word-spacing:6.116px;">and, therefore, discover new knowledge through logical</div>
<div class="t" style="left:908.60px;top:944.34px;word-spacing:-0.750px;letter-spacing:-0.095px;">inference. Ontologies are widely used in health and biomedicine</div>
<div class="t" style="left:908.60px;top:961.44px;word-spacing:1.122px;">and have made a substantial contribution to translational and</div>
<div class="t" style="left:908.60px;top:978.54px;word-spacing:-0.182px;">clinical research as well as public and personalized health care</div>
<div class="t" style="left:908.60px;top:995.64px;">[<a>8</a>].</div>
<div class="t" style="left:908.60px;top:1021.29px;word-spacing:0.607px;">The creation of the ACEs Ontology is rooted in recent efforts</div>
<div class="t" style="left:908.60px;top:1038.39px;word-spacing:14.950px;">to study the effects of early experiences and</div>
<div class="t" style="left:908.60px;top:1055.49px;word-spacing:2.670px;">social-environmental factors on children’s development and</div>
<div class="t" style="left:908.60px;top:1072.59px;word-spacing:1.241px;">life-course health. These efforts have been made by multiple</div>
<div class="t" style="left:908.60px;top:1089.69px;word-spacing:2.224px;">actors from different disciplines at various levels, including</div>
<div class="t" style="left:1280.55px;top:97.79px;word-spacing:-0.223px;">international organizations (eg, the World Health Organization</div>
<div class="t" style="left:1280.55px;top:114.89px;word-spacing:1.933px;">[<a>9</a>]), nongovernmental organizations (eg, the Foundation for</div>
<div class="t" style="left:1280.55px;top:131.99px;word-spacing:-0.750px;letter-spacing:-0.034px;">Excellence in Mental Health Care [<a>10</a>] and the Center for Youth</div>
<div class="t" style="left:1280.55px;top:149.09px;word-spacing:7.834px;">Wellness [<a>11</a>]), government offices (eg, the Tennessee</div>
<div class="t" style="left:1280.55px;top:166.19px;word-spacing:2.059px;">Department of Children’s Services [<a>12</a>] and the CDC [<a>13</a>]),</div>
<div class="t" style="left:1280.55px;top:183.29px;word-spacing:6.972px;">volunteers that consolidate their efforts (eg, the ACEs</div>
<div class="t" style="left:1280.55px;top:200.39px;word-spacing:-0.750px;letter-spacing:-0.113px;">Connection community [<a>14</a>] and the Cumbria Resilience Project</div>
<div class="t" style="left:1280.55px;top:217.49px;word-spacing:4.034px;">[<a>15</a>]), and academic studies. All of these projects have a</div>
<div class="t" style="left:1280.55px;top:234.59px;word-spacing:1.171px;">common goal, which is preventing occurrences of ACEs and</div>
<div class="t" style="left:1280.55px;top:251.69px;word-spacing:-0.225px;">providing assistance to victims; however, their results, studies,</div>
<div class="t" style="left:1280.55px;top:268.79px;word-spacing:-0.170px;">interventions, and tools are limited by the fact that they cannot</div>
<div class="t" style="left:1280.55px;top:285.89px;word-spacing:-0.750px;letter-spacing:-0.123px;">easily be shared in a way that would improve the ability to repeat</div>
<div class="t" style="left:1280.55px;top:302.99px;word-spacing:1.027px;">or reuse them elsewhere. The ACEs Ontology can bridge the</div>
<div class="t" style="left:1280.55px;top:320.09px;word-spacing:4.354px;">gap between these efforts for efficient ACEs studies and</div>
<div class="t" style="left:1280.55px;top:337.19px;">surveillance.</div>
<div class="t" style="left:1280.55px;top:362.84px;word-spacing:0.119px;">While several ontologies exist in the domain of mental health,</div>
<div class="t" style="left:1280.55px;top:379.94px;word-spacing:-0.750px;letter-spacing:-0.124px;">the ACEs Ontology is designed to deal with a carefully restricted</div>
<div class="t" style="left:1280.55px;top:397.04px;word-spacing:0.438px;">scope, which is the study, prevention, and treatment of ACEs.</div>
<div class="t" style="left:1280.55px;top:414.14px;word-spacing:0.538px;">We have included in the ontology some aspects that we deem</div>
<div class="t" style="left:1280.55px;top:431.24px;word-spacing:2.077px;">important because they are tangentially connected to ACEs,</div>
<div class="t" style="left:1280.55px;top:448.34px;word-spacing:-0.750px;letter-spacing:-0.134px;">such as potential health outcomes as well as their possible causes</div>
<div class="t" style="left:1280.55px;top:465.44px;word-spacing:-0.412px;">and aggravating conditions. Many other projects and resources</div>
<div class="t" style="left:1280.55px;top:482.54px;word-spacing:-0.750px;letter-spacing:-0.166px;">exist that provide more detailed views of these adjacent domains;</div>
<div class="t" style="left:1280.55px;top:499.64px;word-spacing:-0.750px;letter-spacing:-0.065px;">for example, the Children’s Health Exposure Analysis Resource</div>
<div class="t" style="left:1280.55px;top:516.74px;word-spacing:3.792px;">(CHEAR) project [<a>16</a>] deals with environment as well as</div>
<div class="t" style="left:1280.55px;top:533.84px;word-spacing:10.504px;">measurable exposure and biological responses. Since</div>
<div class="t" style="left:1280.55px;top:550.94px;word-spacing:2.925px;">environmental factors have impacts on the development of</div>
<div class="t" style="left:1280.55px;top:568.04px;word-spacing:-0.264px;">children and on the incidence of ACEs, we plan to use existing</div>
<div class="t" style="left:1280.55px;top:585.14px;word-spacing:-0.750px;letter-spacing:-0.034px;">resources, such as the CHEAR ontology [<a>17</a>], in future versions</div>
<div class="t" style="left:1280.55px;top:602.24px;word-spacing:0.062px;">of the ACEs Ontology. The same can be said of other adjacent</div>
<div class="t" style="left:1280.55px;top:619.34px;word-spacing:0.132px;">domains, including the legal and penal system, psychiatry and</div>
<div class="t" style="left:1280.55px;top:636.44px;word-spacing:-0.530px;">psychology of children and adults, nutrition, and interventions.</div>
<div class="t" style="left:1280.55px;top:662.09px;word-spacing:3.368px;">In this paper, we present the ACEs Ontology as a formal</div>
<div class="t" style="left:1280.55px;top:679.19px;word-spacing:-0.750px;letter-spacing:-0.038px;">reusable resource that can be used by the mental health research</div>
<div class="t" style="left:1280.55px;top:696.29px;word-spacing:-0.750px;letter-spacing:-0.024px;">community to advance the surveillance and study of ACEs. The</div>
<div class="t" style="left:1280.55px;top:713.39px;word-spacing:4.134px;">ACEs ontological structure provides a semantic backbone</div>
<div class="t" style="left:1280.55px;top:730.49px;word-spacing:1.618px;">supporting the entire data model and hierarchy and supports</div>
<div class="t" style="left:1280.55px;top:747.59px;word-spacing:-0.380px;">logical inference and query answering. The ontology is used to</div>
<div class="t" style="left:1280.55px;top:764.69px;word-spacing:1.606px;">form a consensus on the kind of data that is relevant and to</div>
<div class="t" style="left:1280.55px;top:781.79px;word-spacing:-0.654px;">create a common lexicon that makes it easier to share and reuse</div>
<div class="t" style="left:1280.55px;top:798.89px;word-spacing:-0.750px;letter-spacing:-0.031px;">knowledge and information in the domain. The ACEs Ontology</div>
<div class="t" style="left:1280.55px;top:815.99px;word-spacing:4.296px;">is an integral part of the Semantic Platform for Adverse</div>
<div class="t" style="left:1280.55px;top:833.09px;word-spacing:0.058px;">Childhood Experiences Surveillance (SPACES) [<a>18</a>], which is</div>
<div class="t" style="left:1280.55px;top:850.19px;word-spacing:-0.410px;">a semantic recommender system currently under development.</div>
<div class="t" style="left:1280.55px;top:867.29px;word-spacing:5.532px;">The SPACES system employs the contextual knowledge</div>
<div class="t" style="left:1280.55px;top:884.39px;word-spacing:0.391px;">provided by the ACEs Ontology, along with a hybrid content-</div>
<div class="t" style="left:1280.55px;top:901.49px;word-spacing:4.931px;">and context-based filtering approach to enable intelligent</div>
<div class="t" style="left:1280.55px;top:918.59px;word-spacing:2.290px;">exploratory and explanatory analysis and informed decision</div>
<div class="t" style="left:1280.55px;top:935.69px;word-spacing:0.952px;">making. In this paper, we will first explain how the ontology</div>
<div class="t" style="left:1280.55px;top:952.79px;word-spacing:-0.732px;">was built and how it will dynamically expand to meet the needs</div>
<div class="t" style="left:1280.55px;top:969.89px;word-spacing:-0.750px;letter-spacing:-0.072px;">of the ever-evolving field of ACEs’ surveillance and prevention.</div>
<div class="t" style="left:1280.55px;top:986.99px;word-spacing:0.664px;">We will then show the usability of the ontology through a set</div>
<div class="t" style="left:1280.55px;top:1004.09px;word-spacing:-0.750px;letter-spacing:-0.028px;">of use-case scenarios. The paper will conclude with discussions</div>
<div class="t" style="left:1280.55px;top:1021.19px;">of the findings and suggestions for future directions.</div>
<div class="t" style="left:1756.60px;top:62.09px;">JMIR MENTAL HEALTH</div>
<div class="t" style="left:1756.60px;top:62.09px;width:726.80px;text-align:right;">Brenas et al</div>
<div class="t" style="left:1756.60px;top:1125.83px;font-size:9.98px;">http://mental.jmir.org/2019/5/e13498/</div>
<div class="t" style="left:1756.60px;top:1125.83px;font-size:9.98px;width:726.80px;text-align:right;">JMIR Ment Health 2019 | vol. 6 | iss. 5 | e13498 | p. 3</div>
<div class="t" style="left:1756.60px;top:1138.03px;font-size:9.98px;width:726.80px;text-align:right;"><i>(page number not for citation purposes)</i></div>
<div class="t h" style="left:1705.10px;top:1149.38px;font-size:28.9px;color:#8e8e8e;transform-origin:0 50%;transform:scaleX(0.5310);">XSL</div>
<div class="t h" style="left:1743.90px;top:1149.38px;font-size:28.9px;color:#8e8e8e;transform-origin:0 50%;transform:scaleX(0.5657);">FO</div>
<div class="t h" style="left:1756.60px;top:104.68px;font-size:19.95px;"><i>Methods</i></div>
<div class="t" style="left:1756.60px;top:137.99px;word-spacing:-0.750px;letter-spacing:-0.005px;">To facilitate the integration of ACEs-related data from different</div>
<div class="t" style="left:1756.60px;top:155.09px;word-spacing:0.943px;">data sources, the ontology reuses several existing ontological</div>
<div class="t" style="left:1756.60px;top:172.19px;word-spacing:0.477px;">concepts and relations as much as possible, while introducing</div>
<div class="t" style="left:1756.60px;top:189.29px;word-spacing:-0.750px;letter-spacing:-0.165px;">new components. In some cases, the ontology integrates multiple</div>
<div class="t" style="left:1756.60px;top:206.39px;word-spacing:-0.750px;letter-spacing:-0.125px;">existing elements in order to represent new pieces of knowledge.</div>
<div class="t" style="left:1756.60px;top:223.49px;word-spacing:-0.068px;">The surveillance of ACEs is focused on monitoring, detection,</div>
<div class="t" style="left:1756.60px;top:240.59px;word-spacing:2.445px;">and prevention of ACEs as well as studying their causality</div>
<div class="t" style="left:1756.60px;top:257.69px;word-spacing:-0.750px;letter-spacing:-0.114px;">pathways and short- or long-term consequences. The knowledge</div>
<div class="t" style="left:1756.60px;top:274.79px;word-spacing:1.044px;">required to describe these activities is linked to concepts and</div>
<div class="t" style="left:1756.60px;top:291.89px;word-spacing:-0.750px;letter-spacing:-0.123px;">terminologies coming from a wide variety of domains, including</div>
<div class="t" style="left:1756.60px;top:308.99px;word-spacing:1.481px;">medicine, legal justice, cognitive and personal behavior, and</div>
<div class="t" style="left:1756.60px;top:326.09px;word-spacing:0.751px;">community responses. This means that building an integrated</div>
<div class="t" style="left:1756.60px;top:343.19px;word-spacing:1.042px;">ontology and knowledge base that covers the whole range of</div>
<div class="t" style="left:1756.60px;top:360.29px;word-spacing:1.677px;">relevant subjects is a tedious, time-consuming, and complex</div>
<div class="t" style="left:1756.60px;top:377.39px;">task.</div>
<div class="t" style="left:1756.60px;top:403.04px;word-spacing:2.089px;">To build the foundation for the ontology, we identified five</div>
<div class="t" style="left:1756.60px;top:420.14px;word-spacing:1.688px;">different key pieces of knowledge in our scope of study. As</div>
<div class="t" style="left:1756.60px;top:437.24px;word-spacing:3.364px;">shown in <a>Figure 1</a>, <i>Person</i> is used to representing human</div>
<div class="t" style="left:1756.60px;top:454.34px;word-spacing:3.636px;">subjects. It encompasses the child as well as their family</div>
<div class="t" style="left:1756.60px;top:471.44px;word-spacing:1.104px;">members and the rest of their social network. Felitti et al [<a>1</a>]</div>
<div class="t" style="left:1756.60px;top:488.54px;word-spacing:0.144px;">provided a set of definitions and criteria for ACEs. ACEs may</div>
<div class="t" style="left:1756.60px;top:505.64px;word-spacing:0.180px;">affect <i>Persons</i> at different levels of granularity (eg, divorce or</div>
<div class="t" style="left:2128.55px;top:97.79px;word-spacing:0.663px;">separation of parents might affect all the children in a family,</div>
<div class="t" style="left:2128.55px;top:114.89px;word-spacing:0.341px;">while being the victim of physical or sexual abuse might only</div>
<div class="t" style="left:2128.55px;top:131.99px;word-spacing:-0.750px;letter-spacing:-0.073px;">affect one of them). <i>Social Determinants of Health</i> are upstream</div>
<div class="t" style="left:2128.55px;top:149.09px;word-spacing:4.768px;">factors that can affect the <i>Person</i> and the exposure and</div>
<div class="t" style="left:2128.55px;top:166.19px;word-spacing:2.697px;">manifestation of ACEs. SDH also act at different levels of</div>
<div class="t" style="left:2128.55px;top:183.29px;word-spacing:3.253px;">granularity (eg, only members of a specific household are</div>
<div class="t" style="left:2128.55px;top:200.39px;word-spacing:2.154px;">affected by the presence of mold at home, while the whole</div>
<div class="t" style="left:2128.55px;top:217.49px;word-spacing:-0.231px;">neighborhood is influenced, one way or another, by the lack of</div>
<div class="t" style="left:2128.55px;top:234.59px;word-spacing:-0.750px;letter-spacing:-0.013px;">public transportation or safety). Proximity to a clinic or grocery</div>
<div class="t" style="left:2128.55px;top:251.69px;word-spacing:-0.750px;letter-spacing:-0.031px;">store can be beneficial for all members of the community, while</div>
<div class="t" style="left:2128.55px;top:268.79px;word-spacing:-0.750px;letter-spacing:-0.015px;">proximity to other institutions can be positive for only a portion</div>
<div class="t" style="left:2128.55px;top:285.89px;word-spacing:3.989px;">of the community (eg, the presence of a strong religious</div>
<div class="t" style="left:2128.55px;top:302.99px;word-spacing:7.723px;">community might positively influence its well-standing</div>
<div class="t" style="left:2128.55px;top:320.09px;word-spacing:1.332px;">members, but may be seen negatively by people who do not</div>
<div class="t" style="left:2128.55px;top:337.19px;word-spacing:-0.750px;letter-spacing:-0.105px;">belong). <i>Negative Health Outcomes</i> are the medical and surgical</div>
<div class="t" style="left:2128.55px;top:354.29px;word-spacing:0.862px;">adversaries that can be caused or worsened by the ACEs (eg,</div>
<div class="t" style="left:2128.55px;top:371.39px;word-spacing:1.179px;">higher risk of heart attack or cancer). <i>Intervention</i> represents</div>
<div class="t" style="left:2128.55px;top:388.49px;word-spacing:1.718px;">the way that social workers, medical practitioners, or policy</div>
<div class="t" style="left:2128.55px;top:405.59px;word-spacing:6.981px;">makers can mitigate or negate negative health effects.</div>
<div class="t" style="left:2128.55px;top:422.69px;word-spacing:-0.750px;letter-spacing:-0.089px;">Interventions can be implemented through various channels (eg,</div>
<div class="t" style="left:2128.55px;top:439.79px;word-spacing:1.717px;">medical, surgical, and legal). For instance, interventions can</div>
<div class="t" style="left:2128.55px;top:456.89px;word-spacing:-0.338px;">include heart surgery to treat a stroke or providing legal advice</div>
<div class="t" style="left:2128.55px;top:473.99px;word-spacing:-0.750px;letter-spacing:-0.002px;">for people who fear that they might be evicted from their home.</div>
<div class="t" style="left:2128.55px;top:491.09px;word-spacing:6.110px;">The ACEs Ontology contains more-detailed concepts to</div>
<div class="t" style="left:2128.55px;top:508.19px;">accurately describe these different overarching topics.</div>
<div class="t" style="left:1756.60px;top:535.56px;font-size:12.11px;word-spacing:0.915px;"><b>Figure 1.</b><span class="g" style="width:4px"></span> The top conceptual model for the Adverse Childhood Experiences (ACEs) Ontology, demonstrating the interactions between five major</div>
<div class="t" style="left:1756.60px;top:550.06px;font-size:12.11px;">concepts: Person, ACEs, Social Determinants of Health, Interventions, and Negative Health Outcomes.</div>
<div class="t" style="left:2604.60px;top:62.09px;">JMIR MENTAL HEALTH</div>
<div class="t" style="left:2604.60px;top:62.09px;width:726.80px;text-align:right;">Brenas et al</div>
<div class="t" style="left:2604.60px;top:1125.83px;font-size:9.98px;">http://mental.jmir.org/2019/5/e13498/</div>
<div class="t" style="left:2604.60px;top:1125.83px;font-size:9.98px;width:726.80px;text-align:right;">JMIR Ment Health 2019 | vol. 6 | iss. 5 | e13498 | p. 4</div>
<div class="t" style="left:2604.60px;top:1138.03px;font-size:9.98px;width:726.80px;text-align:right;"><i>(page number not for citation purposes)</i></div>
<div class="t h" style="left:2553.10px;top:1149.38px;font-size:28.9px;color:#8e8e8e;transform-origin:0 50%;transform:scaleX(0.5310);">XSL</div>
<div class="t h" style="left:2591.90px;top:1149.38px;font-size:28.9px;color:#8e8e8e;transform-origin:0 50%;transform:scaleX(0.5657);">FO</div>
<div class="t" style="left:2604.60px;top:97.51px;font-size:12.11px;word-spacing:0.121px;"><b>Figure 2.</b><span class="g" style="width:4px"></span> An abstract representation of some of the ontological concepts along with their relationships with the other thesauri in the field. SNOMED</div>
<div class="t" style="left:2604.60px;top:111.71px;font-size:12.11px;word-spacing:0.639px;">CT: Systematized Nomenclature of Medicine—Clinical Terms; ACEs: Adverse Childhood Experiences; NCIT: National Cancer Institute Thesaurus;</div>
<div class="t" style="left:2604.60px;top:125.91px;font-size:12.11px;">MedDRA: Medical Dictionary for Regulatory Activities.</div>
<div class="t" style="left:2604.60px;top:518.59px;word-spacing:1.714px;"><a>Figure 2</a> represents some examples of the major ontological</div>
<div class="t" style="left:2604.60px;top:535.69px;word-spacing:1.316px;">elements; for instance, the ACE <i>Household Substance Abuse</i></div>
<div class="t" style="left:2604.60px;top:552.79px;word-spacing:2.740px;">affects <i>Individuals</i> who are part of the same <i>Household</i> as</div>
<div class="t" style="left:2604.60px;top:569.89px;word-spacing:2.629px;"><i>Individuals</i> suffering from <i>Alcohol Abuse—</i> that <i>Household</i></div>
<div class="t" style="left:2604.60px;top:586.99px;word-spacing:6.086px;"><i>Substance Abuse</i> may itself be a causal factor for the</div>
<div class="t" style="left:2604.60px;top:604.09px;word-spacing:1.769px;">development of <i>Cancer</i>. The concepts and relationships that</div>
<div class="t" style="left:2604.60px;top:621.19px;word-spacing:0.424px;">appear in the ontology come from various sources in the field</div>
<div class="t" style="left:2604.60px;top:638.29px;word-spacing:-0.750px;letter-spacing:-0.072px;">(eg, literature, databases, other ontologies, and domain experts).</div>
<div class="t" style="left:2604.60px;top:655.39px;word-spacing:2.721px;">Many of the concepts that are central to ACEs (eg, abuse,</div>
<div class="t" style="left:2604.60px;top:672.49px;word-spacing:0.043px;">violence, and mental illnesses and their medical consequences</div>
<div class="t" style="left:2604.60px;top:689.59px;word-spacing:-0.292px;">such as alcoholism, depression, obesity, and cancer) have been</div>
<div class="t" style="left:2604.60px;top:706.69px;word-spacing:1.144px;">scattered among different existing biomedical ontologies and</div>
<div class="t" style="left:2604.60px;top:723.79px;word-spacing:-0.750px;letter-spacing:-0.021px;">controlled vocabularies. For example, based on different needs,</div>
<div class="t" style="left:2604.60px;top:740.89px;word-spacing:2.311px;">we imported a subset of the Systematized Nomenclature of</div>
<div class="t" style="left:2604.60px;top:757.99px;word-spacing:0.579px;">Medicine—Clinical Terms (SNOMED CT) [<a>19</a>], the National</div>
<div class="t" style="left:2604.60px;top:775.09px;word-spacing:4.262px;">Cancer Institute Thesaurus (NCIT) [<a>20</a>], and the Medical</div>
<div class="t" style="left:2604.60px;top:792.19px;word-spacing:0.771px;">Dictionary for Regulatory Activities (MedDRA) [<a>21</a>] into the</div>
<div class="t" style="left:2604.60px;top:809.29px;word-spacing:1.434px;">ACEs Ontology [<a>22</a>]. There is considerable overlap between</div>
<div class="t" style="left:2604.60px;top:826.39px;word-spacing:0.102px;">the domains represented in these ontologies and, thus, it is not</div>
<div class="t" style="left:2604.60px;top:843.49px;word-spacing:2.975px;">a surprise to find some repetitive concepts with similar or</div>
<div class="t" style="left:2604.60px;top:860.59px;word-spacing:1.095px;">different definitions. In order to improve interoperability and</div>
<div class="t" style="left:2604.60px;top:877.69px;word-spacing:-0.043px;">reusability, we imported all the definitions and stated that they</div>
<div class="t" style="left:2604.60px;top:894.79px;word-spacing:0.636px;">were equivalent, where applicable (ie, they describe the same</div>
<div class="t" style="left:2604.60px;top:911.89px;">concept).</div>
<div class="t h" style="left:2604.60px;top:944.78px;font-size:19.95px;"><i>Results</i></div>
<div class="t" style="left:2604.60px;top:977.71px;font-size:15.68px;"><b>Overview</b></div>
<div class="t" style="left:2604.60px;top:999.89px;word-spacing:1.357px;"><a>Figure 3</a> shows a fragment of the ACEs Ontology, including</div>
<div class="t" style="left:2604.60px;top:1016.99px;word-spacing:-0.750px;letter-spacing:-0.031px;">the partial concept and property hierarchies. The Web Ontology</div>
<div class="t" style="left:2604.60px;top:1034.09px;word-spacing:-0.750px;letter-spacing:-0.066px;">Language (OWL) format [<a>23</a>] is the de facto standard to express</div>
<div class="t" style="left:2604.60px;top:1051.19px;word-spacing:1.012px;">ontologies; for this reason, and for our ACEs Ontology to be</div>
<div class="t" style="left:2976.55px;top:518.59px;word-spacing:0.926px;">freely reused by the community, the OWL format [<a>23</a>] of the</div>
<div class="t" style="left:2976.55px;top:535.69px;word-spacing:-0.412px;">ontology was made available via BioPortal [<a>22</a>] (see <a>Figure 4</a>).</div>
<div class="t" style="left:2976.55px;top:561.34px;word-spacing:5.856px;">An important decision when building the ontology was</div>
<div class="t" style="left:2976.55px;top:578.44px;word-spacing:1.113px;">determining its overall expressivity. The more expressive the</div>
<div class="t" style="left:2976.55px;top:595.54px;word-spacing:-0.198px;">ontology, the higher the complexity of its associated reasoning</div>
<div class="t" style="left:2976.55px;top:612.64px;word-spacing:-0.750px;letter-spacing:-0.085px;">tasks. In a similar way, increasing the complexity of an ontology</div>
<div class="t" style="left:2976.55px;top:629.74px;word-spacing:1.835px;">makes it harder to maintain, as it becomes more difficult to</div>
<div class="t" style="left:2976.55px;top:646.84px;word-spacing:0.575px;">make sure that no two inconsistent statements cohabit within.</div>
<div class="t" style="left:2976.55px;top:663.94px;word-spacing:-0.103px;">For this reason, and to encourage reusability of the ontologies,</div>
<div class="t" style="left:2976.55px;top:681.04px;word-spacing:1.450px;">many biomedical ontologies focus almost exclusively on the</div>
<div class="t" style="left:2976.55px;top:698.14px;word-spacing:0.888px;">taxonomical part of the ontology, which is defining inclusion</div>
<div class="t" style="left:2976.55px;top:715.24px;word-spacing:2.159px;">relationships between various concepts (eg, <i>Verbal abuse</i> <span class="m">⊆</span></div>
<div class="t" style="left:2976.55px;top:732.34px;word-spacing:-0.750px;letter-spacing:-0.020px;"><i>Abuse</i>; for instance, verbal abuse is a subcategory of abuse) and</div>
<div class="t" style="left:2976.55px;top:749.44px;word-spacing:1.663px;">avoiding the definition of more complex axioms (eg, <i>Verbal</i></div>
<div class="t" style="left:2976.55px;top:766.54px;word-spacing:-0.750px;letter-spacing:-0.020px;"><i>abuse</i> <span class="m">≅</span> <i>Abuse</i> <span class="m">∧</span> <span class="m">∃</span> has Component. <i>Verbal</i>, for instance, verbal</div>
<div class="t" style="left:2976.55px;top:783.64px;word-spacing:4.305px;">abuse is exactly the category of abuse that has a verbal</div>
<div class="t" style="left:2976.55px;top:800.74px;word-spacing:2.715px;">component). In our ontology, we gradually define complex</div>
<div class="t" style="left:2976.55px;top:817.84px;word-spacing:0.729px;">axioms as needed to capture more sophisticated key concepts</div>
<div class="t" style="left:2976.55px;top:834.94px;word-spacing:-0.029px;">necessary for ACEs’ surveillance. General axioms, such as the</div>
<div class="t" style="left:2976.55px;top:852.04px;word-spacing:2.121px;">ones shown in <a>Figure 5</a>, are used to express these complex</div>
<div class="t" style="left:2976.55px;top:869.14px;">concepts.</div>
<div class="t" style="left:2976.55px;top:894.79px;word-spacing:0.628px;">The current implementation of the ontology [<a>22</a>] is expressed</div>
<div class="t" style="left:2976.55px;top:911.89px;word-spacing:1.779px;">in the description logic ALCRIQ (D), a sublogic of OWL 2</div>
<div class="t" style="left:2976.55px;top:928.99px;word-spacing:0.528px;">[<a>23</a>]. It is an expressive logic and, thus, the complexity of the</div>
<div class="t" style="left:2976.55px;top:946.09px;word-spacing:2.405px;">decision problems is relatively high. In order to reduce the</div>
<div class="t" style="left:2976.55px;top:963.19px;word-spacing:0.512px;">complexity, it is possible to avoid the use of datatypes, which</div>
<div class="t" style="left:2976.55px;top:980.29px;word-spacing:-0.127px;">are currently only used for dates and frequencies that might be</div>
<div class="t" style="left:2976.55px;top:997.39px;word-spacing:1.370px;">handled as concepts; counting quantifiers, used to define the</div>
<div class="t" style="left:2976.55px;top:1014.49px;word-spacing:1.796px;">ACEs scores; or simplifying the role hierarchies. The ACEs</div>
<div class="t" style="left:2976.55px;top:1031.59px;word-spacing:0.434px;">Ontology currently contains 297 classes, 93 object properties,</div>
<div class="t" style="left:2976.55px;top:1048.69px;word-spacing:-0.265px;">and 3 data properties. Most existing axioms are in the forms of</div>
<div class="t" style="left:2976.55px;top:1065.79px;">class subsumption or equivalence.</div>
<div class="t" style="left:3452.60px;top:62.09px;">JMIR MENTAL HEALTH</div>
<div class="t" style="left:3452.60px;top:62.09px;width:726.80px;text-align:right;">Brenas et al</div>
<div class="t" style="left:3452.60px;top:1125.83px;font-size:9.98px;">http://mental.jmir.org/2019/5/e13498/</div>
<div class="t" style="left:3452.60px;top:1125.83px;font-size:9.98px;width:726.80px;text-align:right;">JMIR Ment Health 2019 | vol. 6 | iss. 5 | e13498 | p. 5</div>
<div class="t" style="left:3452.60px;top:1138.03px;font-size:9.98px;width:726.80px;text-align:right;"><i>(page number not for citation purposes)</i></div>
<div class="t h" style="left:3401.10px;top:1149.38px;font-size:28.9px;color:#8e8e8e;transform-origin:0 50%;transform:scaleX(0.5310);">XSL</div>
<div class="t h" style="left:3439.90px;top:1149.38px;font-size:28.9px;color:#8e8e8e;transform-origin:0 50%;transform:scaleX(0.5657);">FO</div>
<div class="t" style="left:3452.60px;top:97.51px;font-size:12.11px;word-spacing:-0.637px;letter-spacing:-0.013px;"><b>Figure 3.</b><span class="g" style="width:4px"></span> A fragment of the Adverse Childhood Experiences (ACEs) Ontology representing partial class and property hierarchies. OWL: Web Ontology</div>
<div class="t" style="left:3452.60px;top:111.71px;font-size:12.11px;">Language.</div>
<div class="t dc" style="left:3489.30px;top:151.05px;font-size:14.6px;color:#fff2bd;transform-origin:0 50%;transform:scaleX(0.8802);">Class hierarchy:</div>
<div class="t h" style="left:4058.30px;top:151.61px;font-size:9.5px;color:#f7e9a6;font-weight:bold;">?</div>
<div class="t h" style="left:4109.30px;top:150.96px;font-size:10.5px;color:#f7e9a6;font-weight:bold;">x</div>
<div class="t dc" style="left:4036.70px;top:178.46px;font-size:13.7px;color:#222;transform-origin:0 50%;transform:scaleX(0.9238);">Asserted</div>
<div class="t db" style="left:3542.50px;top:210.06px;font-size:13.7px;color:#111;transform-origin:0 50%;transform:scaleX(0.9162);">ACES_Scores</div>
<div class="t db" style="left:3542.50px;top:228.03px;font-size:13.7px;color:#111;transform-origin:0 50%;transform:scaleX(0.8589);">Activity</div>
<div class="t db" style="left:3542.50px;top:246.00px;font-size:13.7px;color:#111;transform-origin:0 50%;transform:scaleX(0.9114);">Adverse_Childhood_Experiences</div>
<div class="t db" style="left:3561.20px;top:263.97px;font-size:13.7px;color:#111;transform-origin:0 50%;transform:scaleX(0.8409);">Abuse</div>
<div class="t db" style="left:3561.20px;top:281.94px;font-size:13.7px;color:#111;transform-origin:0 50%;transform:scaleX(0.9062);">Household_Challenges</div>
<div class="t db" style="left:3579.90px;top:299.91px;font-size:13.7px;color:#111;transform-origin:0 50%;transform:scaleX(0.9143);">Criminal_Household_Member</div>
<div class="t db" style="left:3579.90px;top:317.88px;font-size:13.7px;color:#111;transform-origin:0 50%;transform:scaleX(0.9154);">Household_Substance_Abuse</div>
<div class="t db" style="left:3579.90px;top:335.85px;font-size:13.7px;color:#111;transform-origin:0 50%;transform:scaleX(0.9536);">Mental_Illness_In_Household</div>
<div class="t db" style="left:3579.90px;top:353.82px;font-size:13.7px;color:#111;transform-origin:0 50%;transform:scaleX(0.9101);">Mother_Treated_Violently</div>
<div class="t db" style="left:3579.90px;top:371.79px;font-size:13.7px;color:#111;transform-origin:0 50%;transform:scaleX(0.9221);">Parental_Separation_Or_Divorce</div>
<div class="t db" style="left:3559.60px;top:389.76px;font-size:13.7px;color:#111;transform-origin:0 50%;transform:scaleX(0.9598);">Lived_with_Parent_or_Guardian_who_Died</div>
<div class="t db" style="left:3559.60px;top:407.73px;font-size:13.7px;color:#111;transform-origin:0 50%;transform:scaleX(0.9478);">Lived_with_Parent_or_Guardian_who_was_Deported</div>
<div class="t db" style="left:3559.60px;top:425.70px;font-size:13.7px;color:#111;transform-origin:0 50%;transform:scaleX(0.9470);">Lives_in_Foster_Care</div>
<div class="t db" style="left:3561.20px;top:443.67px;font-size:13.7px;color:#111;transform-origin:0 50%;transform:scaleX(0.8566);">Neglect</div>
<div class="t db" style="left:3579.90px;top:461.64px;font-size:13.7px;color:#111;transform-origin:0 50%;transform:scaleX(0.8765);">'Emotional Neglect'</div>
<div class="t db" style="left:3579.90px;top:479.61px;font-size:13.7px;color:#111;transform-origin:0 50%;transform:scaleX(0.8834);">'Physical Neglect'</div>
<div class="t db" style="left:3559.60px;top:497.58px;font-size:13.7px;color:#111;transform-origin:0 50%;transform:scaleX(0.9448);">Suffered_From_Discrimination_Because_of_Race_Sexual_Orientation_Place_of_Birth_</div>
<div class="t db" style="left:3559.60px;top:515.55px;font-size:13.7px;color:#111;transform-origin:0 50%;transform:scaleX(0.9361);">Suffered_From_Life-Threatening_Disease_or_Received_Serious_Medical_Procedure</div>
<div class="t db" style="left:3559.60px;top:533.52px;font-size:13.7px;color:#111;transform-origin:0 50%;transform:scaleX(0.9546);">Suffers_From_Bullying_in_School</div>
<div class="t db" style="left:3559.60px;top:551.49px;font-size:13.7px;color:#111;transform-origin:0 50%;transform:scaleX(0.9182);">Witnessed_Violence_in_Neighborhood</div>
<div class="t db" style="left:3540.90px;top:569.46px;font-size:13.7px;color:#111;transform-origin:0 50%;transform:scaleX(0.8928);">Bullying ≡ Bullying</div>
<div class="t h" style="left:3490.30px;top:614.23px;font-size:12.6px;color:#4c4c4c;transform-origin:0 50%;transform:scaleX(0.9959);">Individuals by type</div>
<div class="t h" style="left:3699.60px;top:614.23px;font-size:12.6px;color:#4c4c4c;transform-origin:0 50%;transform:scaleX(0.9503);">Annotation property hierarchy</div>
<div class="t h" style="left:4006.90px;top:614.23px;font-size:12.6px;color:#4c4c4c;transform-origin:0 50%;transform:scaleX(0.9488);">Datatypes</div>
<div class="t h" style="left:3490.20px;top:636.03px;font-size:12.6px;color:#222;transform-origin:0 50%;transform:scaleX(0.9710);">Object property hierarchy</div>
<div class="t h" style="left:3822.00px;top:636.03px;font-size:12.6px;color:#4c4c4c;transform-origin:0 50%;transform:scaleX(0.9483);">Data property hierarchy</div>
<div class="t dc" style="left:3488.40px;top:661.15px;font-size:14.6px;color:#e4f2fd;transform-origin:0 50%;transform:scaleX(0.8811);">Object property hierarchy:</div>
<div class="t h" style="left:4058.30px;top:660.81px;font-size:9.5px;color:#d3e8f6;font-weight:bold;">?</div>
<div class="t h" style="left:4109.30px;top:660.16px;font-size:10.5px;color:#d3e8f6;font-weight:bold;">x</div>
<div class="t dc" style="left:4036.70px;top:687.86px;font-size:13.7px;color:#222;transform-origin:0 50%;transform:scaleX(0.9238);">Asserted</div>
<div class="t dc" style="left:3523.80px;top:719.26px;font-size:13.7px;color:#222;transform-origin:0 50%;transform:scaleX(0.8835);">owl:topObjectProperty</div>
<div class="t db" style="left:3542.20px;top:737.36px;font-size:13.7px;color:#111;transform-origin:0 50%;transform:scaleX(0.8734);">affects</div>
<div class="t db" style="left:3542.20px;top:755.06px;font-size:13.7px;color:#111;transform-origin:0 50%;transform:scaleX(0.8516);">attempted</div>
<div class="t db" style="left:3542.20px;top:772.76px;font-size:13.7px;color:#111;transform-origin:0 50%;transform:scaleX(0.8860);">causes</div>
</div>
</body></html>
